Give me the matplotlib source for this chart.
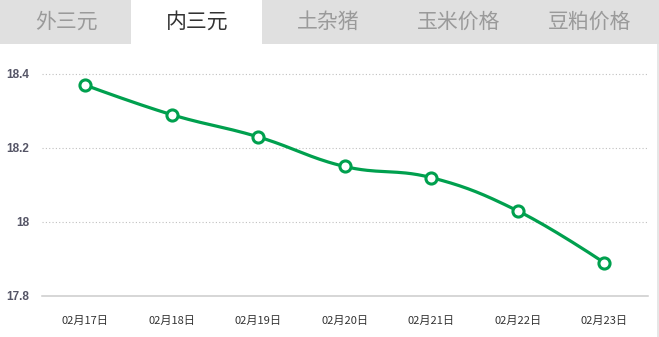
import numpy as np
import matplotlib
matplotlib.use("Agg")
from matplotlib import pyplot as plt
from matplotlib.patches import Rectangle

plt.rcParams['font.family'] = ['Noto Sans CJK SC', 'DejaVu Sans']

tabs = ["外三元", "内三元", "土杂猪", "玉米价格", "豆粕价格"]
active_tab = 1
dates = ["02月17日", "02月18日", "02月19日", "02月20日", "02月21日", "02月22日", "02月23日"]
prices = [18.37, 18.29, 18.23, 18.15, 18.12, 18.03, 17.89]
yticks = [17.8, 18, 18.2, 18.4]
ytick_labels = ["17.8", "18", "18.2", "18.4"]

W, H = 659, 337
fig = plt.figure(figsize=(W / 100, H / 100), dpi=100)

# tab bar
tab_w = 131
fig.patches.append(Rectangle((0, 1 - 44 / H), 1, 44 / H, transform=fig.transFigure,
                             facecolor="#e0e0e0", edgecolor="none", zorder=0))
fig.patches.append(Rectangle((tab_w / W, 1 - 45 / H), tab_w / W, 45 / H, transform=fig.transFigure,
                             facecolor="white", edgecolor="none", zorder=1))
fig.patches.append(Rectangle((657 / W, 0), 2 / W, 1 - 44 / H, transform=fig.transFigure,
                             facecolor="#e6e6e6", edgecolor="none", zorder=1))
for i, t in enumerate(tabs):
    fig.text((tab_w * i + tab_w / 2 + 0.5) / W, 1 - 22 / H, t, ha="center", va="center",
             fontsize=15, color="#333333" if i == active_tab else "#9a9a9a", zorder=2)


def spline(xs, ys, n=30, smooth=1.5):
    # highcharts-like spline through the points
    px, py = [], []
    for i in range(len(xs) - 1):
        x0, y0 = xs[i], ys[i]
        x1, y1 = xs[i + 1], ys[i + 1]
        if i > 0:
            xp, yp = xs[i - 1], ys[i - 1]
            lx = (smooth * x0 + xp) / (smooth + 1)
            ly = (smooth * y0 + yp) / (smooth + 1)
            rx = (smooth * x0 + x1) / (smooth + 1)
            ry = (smooth * y0 + y1) / (smooth + 1)
            cy = ly + (ry - ly) * (x0 - lx) / (rx - lx)
            ry += y0 - cy
            c1 = (rx, ry)
        else:
            c1 = (x0, y0)
        if i + 2 < len(xs):
            xn, yn = xs[i + 2], ys[i + 2]
            lx = (smooth * x1 + x0) / (smooth + 1)
            ly = (smooth * y1 + y0) / (smooth + 1)
            rx = (smooth * x1 + xn) / (smooth + 1)
            ry = (smooth * y1 + yn) / (smooth + 1)
            cy = ly + (ry - ly) * (x1 - lx) / (rx - lx)
            ly += y1 - cy
            c2 = (lx, ly)
        else:
            c2 = (x1, y1)
        t = np.linspace(0, 1, n)
        bx = (1 - t) ** 3 * x0 + 3 * (1 - t) ** 2 * t * c1[0] + 3 * (1 - t) * t ** 2 * c2[0] + t ** 3 * x1
        by = (1 - t) ** 3 * y0 + 3 * (1 - t) ** 2 * t * c1[1] + 3 * (1 - t) * t ** 2 * c2[1] + t ** 3 * y1
        px.extend(bx)
        py.extend(by)
    return np.array(px), np.array(py)


ax = fig.add_axes([42 / W, 41 / H, (647.5 - 42) / W, (296 - 74) / H])
x = np.arange(len(dates))
sx, sy = spline(x, prices)
ax.plot(sx, sy, color="#00a04e", lw=2.3, solid_capstyle="round", clip_on=False, zorder=3)
ax.plot(x, prices, "o", ms=8, mfc="white", mec="#00a04e", mew=2.2, clip_on=False, zorder=4)

ax.set_xlim(-0.5, len(dates) - 0.5)
ax.set_ylim(17.8, 18.4)
ax.set_yticks(yticks)
ax.set_yticklabels(ytick_labels)
ax.set_xticks(x)
ax.set_xticklabels(dates)
for s in ax.spines.values():
    s.set_visible(False)
ax.axhline(17.8, color="#cccccc", lw=1.1, zorder=1, clip_on=False)
for yv in yticks[1:]:
    ax.axhline(yv, color="#c0c0c0", lw=0.8, ls=(0, (1, 2)), zorder=1, clip_on=False)
ax.tick_params(axis="y", length=0, pad=9, labelsize=8.5, labelcolor="#555566")
ax.tick_params(axis="x", length=0, pad=14, labelsize=8, labelcolor="#333333")
for lab in ax.get_yticklabels():
    lab.set_fontweight("bold")
    lab.set_family(["Liberation Sans"])

fig.savefig("out.png", dpi=100)
